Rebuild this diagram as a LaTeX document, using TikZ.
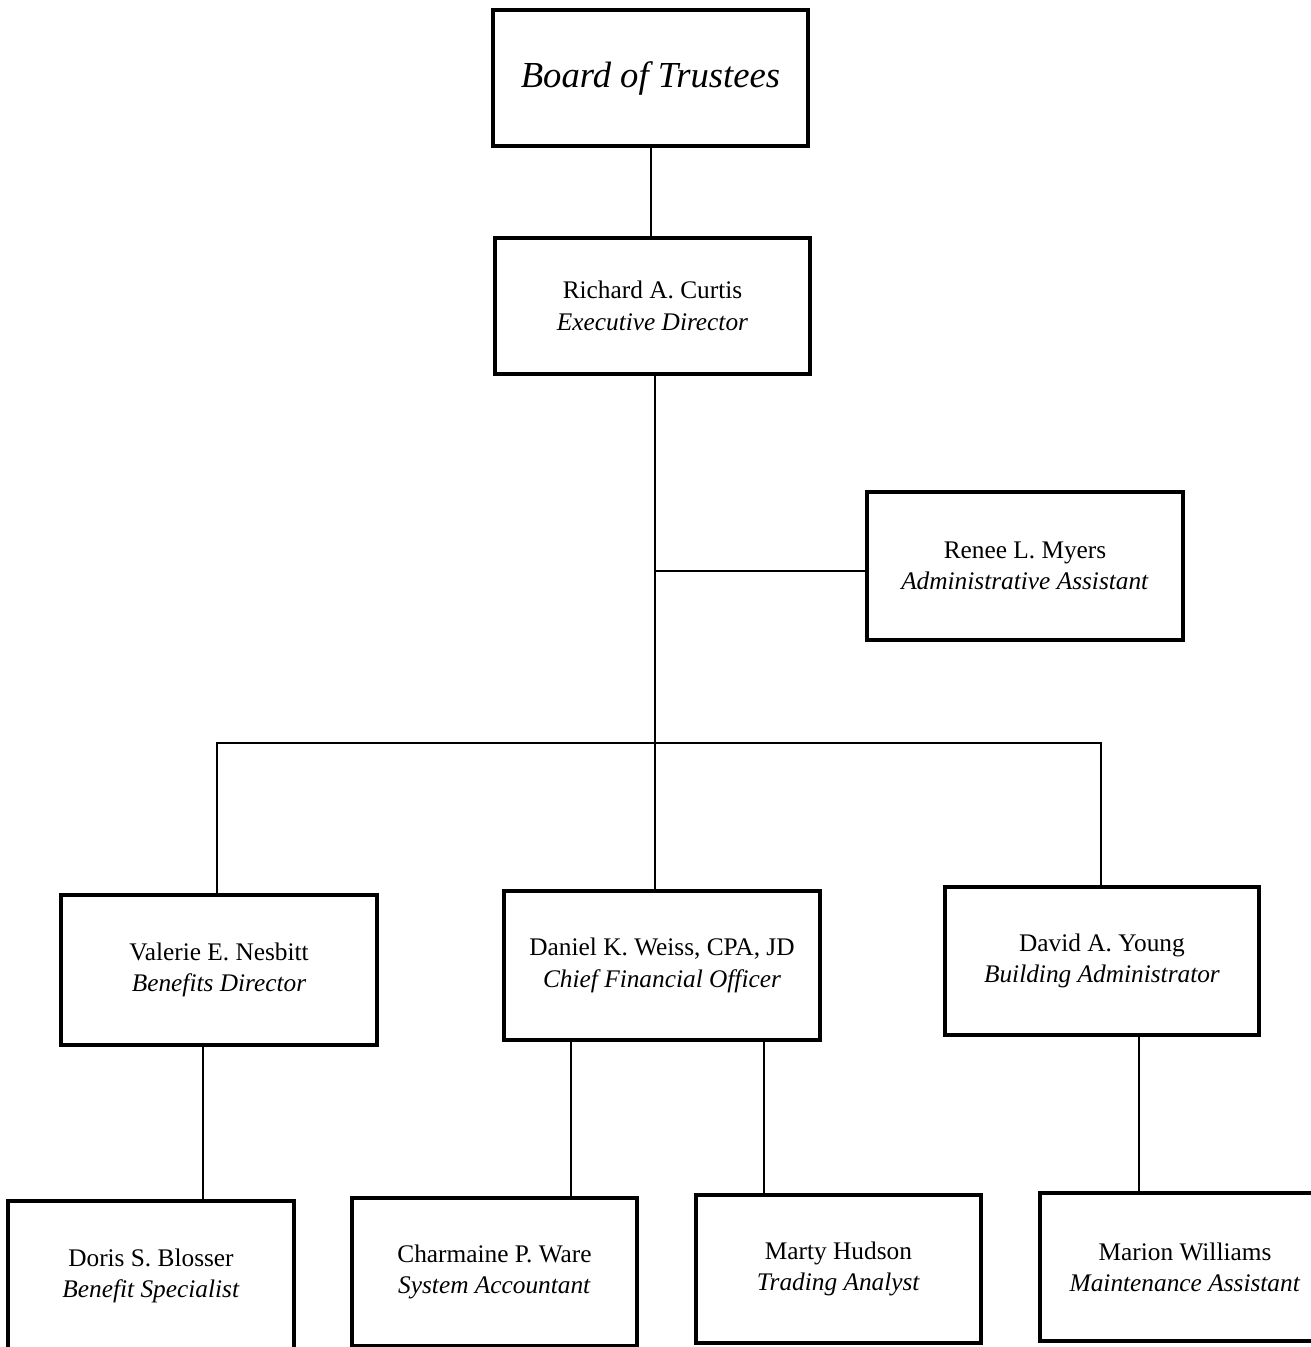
\documentclass[tikz,border=0pt]{standalone}
\usepackage{fontspec}
\setmainfont{Liberation Serif}
\begin{document}
\begin{tikzpicture}[x=0.75pt,y=-0.75pt,
  box/.style={draw=black,line width=2.4pt,fill=white,inner sep=0pt,align=center,
    font=\fontsize{19}{23.5}\selectfont},
  conn/.style={draw=black,line width=1.5pt}]
\useasboundingbox (0,0) rectangle (1311,1347);
\clip (0,0) rectangle (1311,1347);
\fill[white] (0,0) rectangle (1311,1347);
% boxes
\node[box,minimum width=315*0.75pt,minimum height=136*0.75pt,font=\fontsize{27.5}{32}\selectfont\itshape] (board) at (650.5,78) {Board of Trustees};
\node[box,minimum width=315*0.75pt,minimum height=136*0.75pt] (richard) at (652.5,306) {Richard A. Curtis\\\textit{Executive Director}};
\node[box,minimum width=316*0.75pt,minimum height=148*0.75pt] (renee) at (1025,566) {Renee L. Myers\\\textit{Administrative Assistant}};
\node[box,minimum width=316*0.75pt,minimum height=150*0.75pt] (valerie) at (219,970) {Valerie E. Nesbitt\\\textit{Benefits Director}};
\node[box,minimum width=316*0.75pt,minimum height=149*0.75pt] (daniel) at (662,965.5) {Daniel K. Weiss, CPA, JD\\\textit{Chief Financial Officer}};
\node[box,minimum width=314*0.75pt,minimum height=148*0.75pt] (david) at (1102,961) {David A. Young\\\textit{Building Administrator}};
\node[box,minimum width=286*0.75pt,minimum height=150*0.75pt] (doris) at (151,1276) {Doris S. Blosser\\\textit{Benefit Specialist}};
\node[box,minimum width=285*0.75pt,minimum height=148*0.75pt] (charmaine) at (494.5,1272) {Charmaine P. Ware\\\textit{System Accountant}};
\node[box,minimum width=285*0.75pt,minimum height=148*0.75pt] (marty) at (838.5,1269) {Marty Hudson\\\textit{Trading Analyst}};
\node[box,minimum width=290*0.75pt,minimum height=148*0.75pt] (marion) at (1185,1267) {Marion Williams\\\textit{Maintenance Assistant}};
% connectors
\draw[conn] (board.south) -- (board.south |- richard.north);
\coordinate (jr) at (655,571);
\coordinate (jb) at (655,743);
\draw[conn] (richard.south -| jr) -- (daniel.north -| jr);
\draw[conn] (jr) -- (renee.west |- jr);
\draw[conn] (valerie.north -| 217,0) |- (jb) -| (david.north -| 1101,0);
\draw[conn] (valerie.south -| 203,0) -- (doris.north -| 203,0);
\draw[conn] (daniel.south -| 571,0) -- (charmaine.north -| 571,0);
\draw[conn] (daniel.south -| 764,0) -- (marty.north -| 764,0);
\draw[conn] (david.south -| 1139,0) -- (marion.north -| 1139,0);
\end{tikzpicture}
\end{document}
